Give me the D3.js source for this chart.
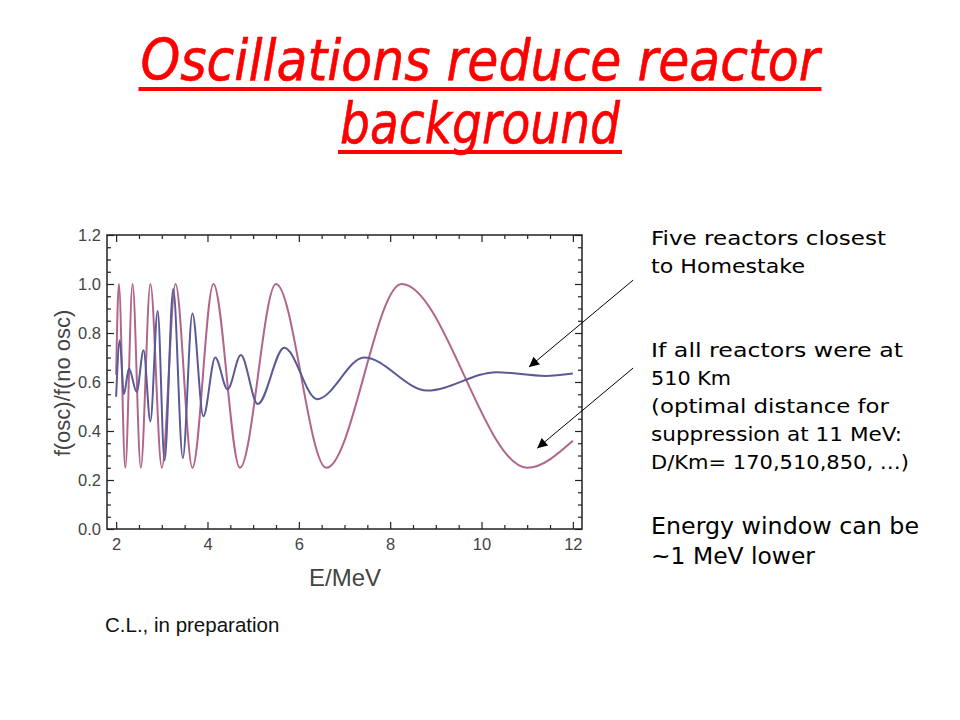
<!DOCTYPE html>
<html>
<head>
<meta charset="utf-8">
<script src="https://cdn.jsdelivr.net/npm/d3@7"></script>
<style>
  body { margin: 0; background: #fff; }
</style>
</head>
<body>
<svg width="960" height="720"></svg>
<script>
// values: [E in MeV, f(osc)/f(no osc)]
const fiveReactors = [
  [2.0, 0.54], [2.08, 0.77], [2.17, 0.55], [2.28, 0.655], [2.45, 0.56],
  [2.60, 0.73], [2.75, 0.44], [2.91, 0.89], [3.06, 0.28], [3.25, 0.98],
  [3.46, 0.29], [3.67, 0.88], [3.91, 0.46], [4.17, 0.70], [4.44, 0.57],
  [4.73, 0.71], [5.10, 0.51], [5.68, 0.74], [6.40, 0.53], [7.43, 0.70],
  [8.81, 0.565], [10.33, 0.64], [11.4, 0.625], [12.0, 0.635]
];
const allAt510 = [
  [2.0, 0.63], [2.06, 1.0], [2.2, 0.25], [2.36, 1.0], [2.54, 0.25],
  [2.75, 1.0], [3.0, 0.25], [3.3, 1.0], [3.67, 0.25], [4.13, 1.0],
  [4.71, 0.25], [5.5, 1.0], [6.6, 0.25], [8.25, 1.0], [11.0, 0.25],
  [12.0, 0.36]
];
const xMajor = [2, 4, 6, 8, 10, 12];
const yMajor = [0, 0.2, 0.4, 0.6, 0.8, 1.0, 1.2];

const titleLines = ['Oscillations reduce reactor', 'background'];
const noteLines = [
  'Five reactors closest', 'to Homestake',
  'If all reactors were at', '510 Km', '(optimal distance for',
  'suppression at 11 MeV:', 'D/Km= 170,510,850, …)'
];
const bottomLines = ['Energy window can be', '~1 MeV lower'];
// arrows: tail / tip in data units
const arrows = [
  {from: [13.32, 1.016], to: [11.04, 0.661]},
  {from: [13.32, 0.657], to: [11.22, 0.33]}
];

var svg = d3.select('svg');
svg.append('rect').attr('width', 960).attr('height', 720).attr('fill', '#fff');

const frame = {left: 107, right: 582, top: 235, bottom: 529};

const x = d3.scaleLinear().domain([1.8, 12.2]).range([frame.left, frame.right]);
const y = d3.scaleLinear().domain([0, 1.2]).range([frame.bottom, frame.top]);

const xMinor = d3.range(2, 12.01, 0.5).filter(v => !xMajor.includes(v));
const yMinor = d3.range(0, 1.201, 0.05).map(v => +v.toFixed(2))
  .filter(v => !yMajor.some(m => Math.abs(m - v) < 1e-6));

// title
const title = svg.append('g').attr('fill', '#ff0000')
  .style('font-family', 'DejaVu Sans').style('font-style', 'italic');
const titleBase = [80, 143];
const titleWidth = [679, 280];
titleLines.forEach((t, i) => {
  title.append('text')
    .attr('x', 480 - titleWidth[i] / 2).attr('y', titleBase[i])
    .attr('textLength', titleWidth[i]).attr('lengthAdjust', 'spacingAndGlyphs')
    .style('font-size', '57px')
    .attr('stroke', '#ff0000').attr('stroke-width', 0.6)
    .text(t);
  title.append('rect')
    .attr('x', 480 - titleWidth[i] / 2 - 2).attr('y', titleBase[i] + 7)
    .attr('width', titleWidth[i] + 4).attr('height', 4);
});

// axes with inward ticks on all sides
function styleAxis(g) {
  g.select('.domain').remove();
  g.selectAll('line').attr('stroke', '#222').attr('stroke-width', 1.2);
  g.selectAll('text').attr('fill', '#444')
    .style('font-family', 'Liberation Sans, Arial').style('font-size', '16.5px');
}
svg.append('g').attr('transform', `translate(0,${frame.bottom})`)
  .call(d3.axisBottom(x).tickValues(xMajor).tickSize(-7).tickPadding(9).tickFormat(d3.format('d')))
  .call(styleAxis);
svg.append('g').attr('transform', `translate(0,${frame.bottom})`)
  .call(d3.axisBottom(x).tickValues(xMinor).tickSize(-4).tickFormat(''))
  .call(styleAxis);
svg.append('g').attr('transform', `translate(0,${frame.top})`)
  .call(d3.axisTop(x).tickValues(xMajor).tickSize(-7).tickFormat(''))
  .call(styleAxis);
svg.append('g').attr('transform', `translate(0,${frame.top})`)
  .call(d3.axisTop(x).tickValues(xMinor).tickSize(-4).tickFormat(''))
  .call(styleAxis);
svg.append('g').attr('transform', `translate(${frame.left},0)`)
  .call(d3.axisLeft(y).tickValues(yMajor).tickSize(-7).tickPadding(6).tickFormat(d3.format('.1f')))
  .call(styleAxis);
svg.append('g').attr('transform', `translate(${frame.left},0)`)
  .call(d3.axisLeft(y).tickValues(yMinor).tickSize(-4).tickFormat(''))
  .call(styleAxis);
svg.append('g').attr('transform', `translate(${frame.right},0)`)
  .call(d3.axisRight(y).tickValues(yMajor).tickSize(-7).tickFormat(''))
  .call(styleAxis);
svg.append('g').attr('transform', `translate(${frame.right},0)`)
  .call(d3.axisRight(y).tickValues(yMinor).tickSize(-4).tickFormat(''))
  .call(styleAxis);

svg.append('rect')
  .attr('x', frame.left).attr('y', frame.top)
  .attr('width', frame.right - frame.left).attr('height', frame.bottom - frame.top)
  .attr('fill', 'none').attr('stroke', '#222').attr('stroke-width', 1.5);

// curves
const line = d3.line()
  .x(d => x(d[0])).y(d => y(d[1]))
  .curve(d3.curveMonotoneX);

svg.append('path').datum(allAt510)
  .attr('d', line).attr('fill', 'none')
  .attr('stroke', '#b0668a').attr('stroke-width', 2);
svg.append('path').datum(fiveReactors)
  .attr('d', line).attr('fill', 'none')
  .attr('stroke', '#5a5a96').attr('stroke-width', 2);

// axis titles
svg.append('text')
  .attr('transform', `translate(70,${(frame.top + frame.bottom) / 2 + 1}) rotate(-90)`)
  .attr('text-anchor', 'middle').attr('fill', '#444')
  .style('font-family', 'Liberation Sans, Arial').style('font-size', '22px')
  .text('f(osc)/f(no osc)');
svg.append('text')
  .attr('x', 345).attr('y', 586)
  .attr('text-anchor', 'middle').attr('fill', '#444')
  .style('font-family', 'Liberation Sans, Arial').style('font-size', '24px')
  .text('E/MeV');

svg.append('text')
  .attr('x', 105).attr('y', 632).attr('fill', '#111')
  .style('font-family', 'Liberation Sans, Arial').style('font-size', '20.5px')
  .text('C.L., in preparation');

// notes on the right (line widths follow the slide's wide handwriting font)
const notes = svg.append('g').attr('fill', '#000')
  .style('font-family', 'DejaVu Sans');
const noteBase = [245, 273, 357, 385, 413, 441, 469];
const noteWidth = [235, 154, 252, 80, 238, 251, 258];
noteLines.forEach((t, i) => {
  notes.append('text').attr('x', 651).attr('y', noteBase[i])
    .attr('textLength', noteWidth[i]).attr('lengthAdjust', 'spacingAndGlyphs')
    .style('font-size', '19.5px').text(t);
});
const bottomWidth = [268, 164];
bottomLines.forEach((t, i) => {
  notes.append('text').attr('x', 651).attr('y', 534 + i * 30)
    .attr('textLength', bottomWidth[i]).attr('lengthAdjust', 'spacingAndGlyphs')
    .style('font-size', '23.5px').text(t);
});

// arrows
svg.append('defs').append('marker')
  .attr('id', 'head').attr('viewBox', '0 0 10 10')
  .attr('refX', 10).attr('refY', 5)
  .attr('markerWidth', 12).attr('markerHeight', 10)
  .attr('markerUnits', 'userSpaceOnUse')
  .attr('orient', 'auto')
  .append('path').attr('d', 'M0,0 L10,5 L0,10 Z').attr('fill', '#000');

svg.selectAll('.arrow').data(arrows).enter().append('line')
  .attr('class', 'arrow')
  .attr('x1', d => x(d.from[0])).attr('y1', d => y(d.from[1]))
  .attr('x2', d => x(d.to[0])).attr('y2', d => y(d.to[1]))
  .attr('stroke', '#000').attr('stroke-width', 1)
  .attr('marker-end', 'url(#head)');
</script>
</body>
</html>
